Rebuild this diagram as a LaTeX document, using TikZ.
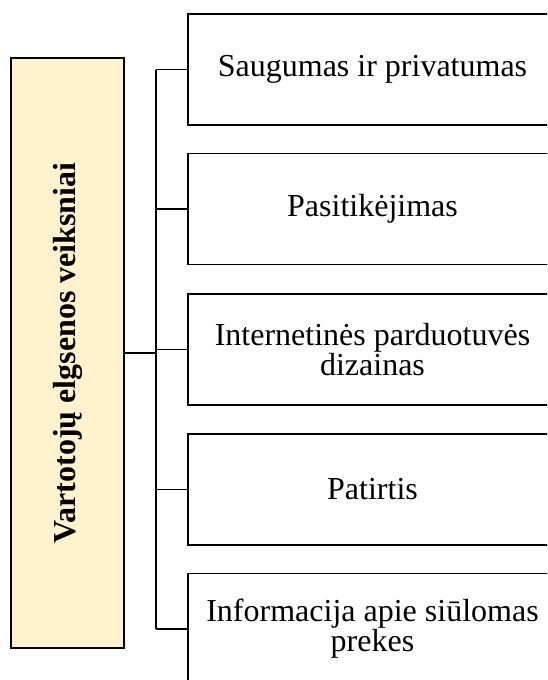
\documentclass[tikz,border=0pt]{standalone}
\usepackage{fontspec}
\setmainfont{Liberation Serif}
\definecolor{factorfill}{HTML}{FFF2CC}
\begin{document}
\begin{tikzpicture}[x=1pt,y=-1pt,
  frame/.style={draw=black, line width=1.8pt},
  mainbox/.style={frame, fill=factorfill, rotate=90, minimum width=590pt,
    minimum height=113pt, inner sep=0pt,
    font=\fontsize{32}{34}\selectfont\bfseries},
  itembox/.style={frame, fill=white, minimum width=369pt, minimum height=111pt,
    inner sep=0pt, align=center,
    font=\fontsize{32}{28}\selectfont},
  link/.style={draw=black, line width=1.8pt}]
  \useasboundingbox (0,0) rectangle (547,680);
  \clip (0,0) rectangle (547,680);

  % main factor box, text turned upward
  \node[mainbox] (main) at (67.5,353) {Vartotojų elgsenos veiksniai};

  % individual factors
  \node[itembox] (f1) at (372.5,69.5)  {Saugumas ir privatumas};
  \node[itembox] (f2) at (372.5,209)   {Pasitikėjimas};
  \node[itembox] (f3) at (372.5,349.5) {Internetinės parduotuvės\\dizainas};
  \node[itembox] (f4) at (372.5,489.5) {Patirtis};
  \node[itembox] (f5) at (372.5,629)   {Informacija apie siūlomas\\prekes};

  % vertical bus joining the factors
  \coordinate (hub) at (156,353);
  \coordinate (bustop) at (156,69.5);
  \coordinate (busbot) at (156,629);
  \draw[link] (main.south) -- (hub);
  \draw[link] (bustop) -- (busbot);
  \foreach \f in {f1,f2,f3,f4,f5}
    \draw[link] (\f.west -| hub) -- (\f.west);
\end{tikzpicture}
\end{document}
